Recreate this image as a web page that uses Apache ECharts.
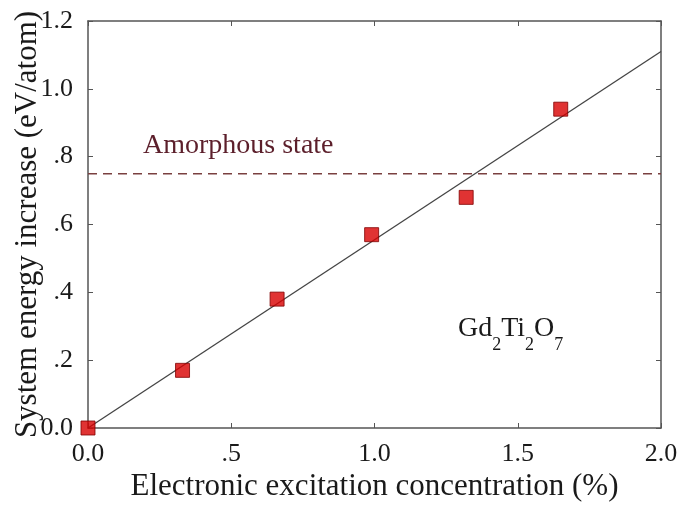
<!DOCTYPE html>
<html>
<head>
<meta charset="utf-8">
<script src="https://cdn.jsdelivr.net/npm/echarts@6/dist/echarts.min.js"></script>
<style>
html,body{margin:0;padding:0;background:#fff;}
#chart{width:685px;height:512px;}
</style>
</head>
<body>
<div id="chart"></div>
<script>
// Data
const concentration = [0, 0.33, 0.66, 0.99, 1.32, 1.65];
const energy = [0, 0.17, 0.38, 0.57, 0.68, 0.94];
const fitLine = [[0, 0], [2.0, 1.11]];
const amorphousLevel = 0.75;
const xTickLabels = {"0": "0.0", "0.5": ".5", "1": "1.0", "1.5": "1.5", "2": "2.0"};
const yTickLabels = {"0": "0.0", "0.2": ".2", "0.4": ".4", "0.6": ".6", "0.8": ".8", "1": "1.0", "1.2": "1.2"};
const xTitle = "Electronic excitation concentration (%)";
const yTitle = "System energy increase (eV/atom)";
const annotation = "Amorphous state";

const FONT = "'Liberation Serif', 'Times New Roman', serif";
const axisCol = '#555';

function fmt(map) {
  return v => { const k = String(Math.round(v * 10) / 10); return map[k] !== undefined ? map[k] : ''; };
}

const chart = echarts.init(document.getElementById('chart'));
const baseX = {
  type: 'value', min: 0, max: 2.0, interval: 0.5,
  axisLine: { show: true, onZero: false, lineStyle: { color: axisCol, width: 1.5 } },
  axisTick: { show: true, inside: true, length: 5, lineStyle: { color: axisCol, width: 1 } },
  splitLine: { show: false }
};
const baseY = {
  type: 'value', min: 0, max: 1.2, interval: 0.2,
  axisLine: { show: true, onZero: false, lineStyle: { color: axisCol, width: 1.5 } },
  axisTick: { show: true, inside: true, length: 5, lineStyle: { color: axisCol, width: 1 } },
  splitLine: { show: false }
};

chart.setOption({
  animation: false,
  backgroundColor: '#fff',
  grid: { left: 88, right: 24, top: 21, bottom: 84, containLabel: false, outerBoundsMode: 'none' },
  xAxis: [
    Object.assign({}, baseX, {
      position: 'bottom',
      axisLabel: { formatter: fmt(xTickLabels), fontFamily: FONT, fontSize: 26, color: '#1a1a1a', margin: 13 },
      name: xTitle, nameLocation: 'middle', nameGap: 43, nameMoveOverlap: false,
      nameTextStyle: { fontFamily: FONT, fontSize: 31, color: '#1a1a1a' }
    }),
    Object.assign({}, baseX, { position: 'top', axisLabel: { show: false } })
  ],
  yAxis: [
    Object.assign({}, baseY, {
      position: 'left',
      axisLabel: { formatter: fmt(yTickLabels), fontFamily: FONT, fontSize: 26, color: '#1a1a1a', margin: 15 },
      name: yTitle, nameLocation: 'middle', nameGap: 45, nameMoveOverlap: false,
      nameTextStyle: { fontFamily: FONT, fontSize: 31, color: '#1a1a1a' }
    }),
    Object.assign({}, baseY, { position: 'right', axisLabel: { show: false } })
  ],
  series: [
    {
      type: 'line', data: fitLine, showSymbol: false, symbol: 'none',
      lineStyle: { color: '#444', width: 1.3 }, z: 2, silent: true
    },
    {
      type: 'line', data: [[0, amorphousLevel], [2.0, amorphousLevel]], symbol: 'none',
      lineStyle: { color: '#7a4040', width: 1.5, type: [9, 6] }, z: 2, silent: true
    },
    {
      type: 'scatter', data: concentration.map((x, i) => [x, energy[i]]),
      symbol: 'rect', symbolSize: 14,
      itemStyle: { color: '#d80000', borderColor: '#800000', borderWidth: 1 }, z: 5
    }
  ],
  graphic: [
    {
      type: 'text', left: 143, top: 132,
      style: { text: annotation, font: "28px " + FONT, fill: '#5c1f2b' }
    },
    {
      type: 'text', left: 458, top: 315,
      style: {
        text: '{a|Gd}{s|2}{a|Ti}{s|2}{a|O}{s|7}',
        rich: {
          a: { fontFamily: FONT, fontSize: 28, fill: '#1a1a1a', lineHeight: 34, verticalAlign: 'top' },
          s: { fontFamily: FONT, fontSize: 18, fill: '#1a1a1a', lineHeight: 34, padding: [21, 0, 0, 0], verticalAlign: 'top' }
        }
      }
    }
  ]
});
</script>
</body>
</html>
